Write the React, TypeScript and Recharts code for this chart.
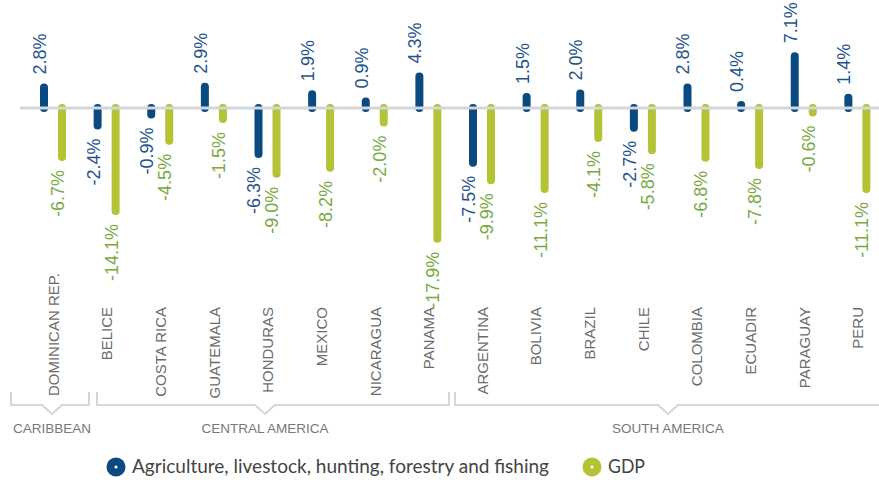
import React from "react";
import { BarChart, Bar, XAxis, YAxis, ReferenceLine, LabelList } from "recharts";

const countries = [
  "DOMINICAN REP.", "BELICE", "COSTA RICA", "GUATEMALA", "HONDURAS", "MEXICO", "NICARAGUA", "PANAMA",
  "ARGENTINA", "BOLIVIA", "BRAZIL", "CHILE", "COLOMBIA", "ECUADIR", "PARAGUAY", "PERU",
];
const agriculture = [2.8, -2.4, -0.9, 2.9, -6.3, 1.9, 0.9, 4.3, -7.5, 1.5, 2.0, -2.7, 2.8, 0.4, 7.1, 1.4];
const gdp = [-6.7, -14.1, -4.5, -1.5, -9.0, -8.2, -2.0, -17.9, -9.9, -11.1, -4.1, -5.8, -6.8, -7.8, -0.6, -11.1];

const regions = ["CARIBBEAN", "CENTRAL AMERICA", "SOUTH AMERICA"];
// bracket spans in pixels: [left, notch, right]
const regionSpans = [
  [11, 52, 89],
  [97, 265, 449],
  [455, 668, 890],
];

const seriesNames = ["Agriculture, livestock, hunting, forestry and fishing", "GDP"];

const BLUE = "#0b4a80";
const BLUE_TEXT = "#1f5489";
const GREEN = "#b4c236";
const GREEN_TEXT = "#79a93f";
const GREY_LINE = "#d3d6db";
const FONT = "'Liberation Sans', Arial, sans-serif";

const data = countries.map((name, i) => ({ name, agri: agriculture[i], gdp: gdp[i] }));

function Pill(props: any) {
  const { x, y, width, height, fill } = props;
  const top = Math.min(y, y + height);
  const h = Math.abs(height);
  return <rect x={x} y={top - 4} width={width} height={h + 8} rx={width / 2} fill={fill} />;
}

const valueLabel = (color: string) => (props: any) => {
  const { x, y, width, height, value } = props;
  const cx = x + width / 2 + 2;
  const top = Math.min(y, y + height);
  const bottom = Math.max(y, y + height);
  const pos = value >= 0;
  const ty = pos ? top - 13 : bottom + 13;
  return (
    <text
      x={cx}
      y={ty}
      transform={`rotate(-90 ${cx} ${ty})`}
      textAnchor={pos ? "start" : "end"}
      fontSize={18}
      fontFamily={FONT}
      fill={color}
    >
      {`${Number(value).toFixed(1)}%`}
    </text>
  );
};

const countryTick = (props: any) => {
  const { x, payload } = props;
  const dom = payload.value === "DOMINICAN REP.";
  const tx = x + 6;
  const ty = dom ? 273 : 307;
  return (
    <text
      x={tx}
      y={ty}
      transform={`rotate(-90 ${tx} ${ty})`}
      textAnchor="end"
      fontSize={15}
      fontFamily={FONT}
      fill="#6b6c6e"
    >
      {payload.value}
    </text>
  );
};

export default function App() {
  return (
    <div style={{ position: "absolute", left: 0, top: 0, width: 879, height: 480, overflow: "hidden", background: "#fff" }}>
      <BarChart
        width={890}
        height={480}
        data={data}
        margin={{ top: 35, right: 0, bottom: 126, left: 20 }}
        barSize={8}
        barGap={10}
      >
        <XAxis
          dataKey="name"
          height={100}
          interval={0}
          axisLine={false}
          tickLine={false}
          padding={{ left: 6, right: 6 }}
          tick={countryTick}
        />
        <YAxis hide domain={[-20, 10]} />
        <ReferenceLine y={0} stroke={GREY_LINE} strokeWidth={3} />
        <Bar dataKey="agri" fill={BLUE} shape={<Pill />} isAnimationActive={false}>
          <LabelList dataKey="agri" content={valueLabel(BLUE_TEXT)} />
        </Bar>
        <Bar dataKey="gdp" fill={GREEN} shape={<Pill />} isAnimationActive={false}>
          <LabelList dataKey="gdp" content={valueLabel(GREEN_TEXT)} />
        </Bar>
      </BarChart>
      <svg width={879} height={480} style={{ position: "absolute", left: 0, top: 0, pointerEvents: "none" }}>
        {regions.map((r, i) => {
          const [l, n, rt] = regionSpans[i];
          return (
            <g key={r}>
              <path
                d={`M${l},392 V405 H${n - 10} L${n},414 L${n + 10},405 H${rt} V392`}
                fill="none"
                stroke={GREY_LINE}
                strokeWidth={2}
              />
              <text x={n} y={433} textAnchor="middle" fontSize={13.5} fontFamily={FONT} fill="#76787a">
                {r}
              </text>
            </g>
          );
        })}
        <circle cx={116} cy={467} r={9.5} fill={BLUE} />
        <circle cx={116} cy={467} r={1.6} fill="#fff" />
        <text x={132} y={473} fontSize={18.5} fontFamily="Lato, 'Open Sans', sans-serif" fill="#444" textLength={417} lengthAdjust="spacingAndGlyphs">
          {seriesNames[0]}
        </text>
        <circle cx={592} cy={467} r={9.5} fill={GREEN} />
        <circle cx={592} cy={467} r={1.6} fill="#fff" />
        <text x={608} y={473} fontSize={18.5} fontFamily="Lato, 'Open Sans', sans-serif" fill="#444" textLength={37} lengthAdjust="spacingAndGlyphs">
          {seriesNames[1]}
        </text>
      </svg>
    </div>
  );
}
